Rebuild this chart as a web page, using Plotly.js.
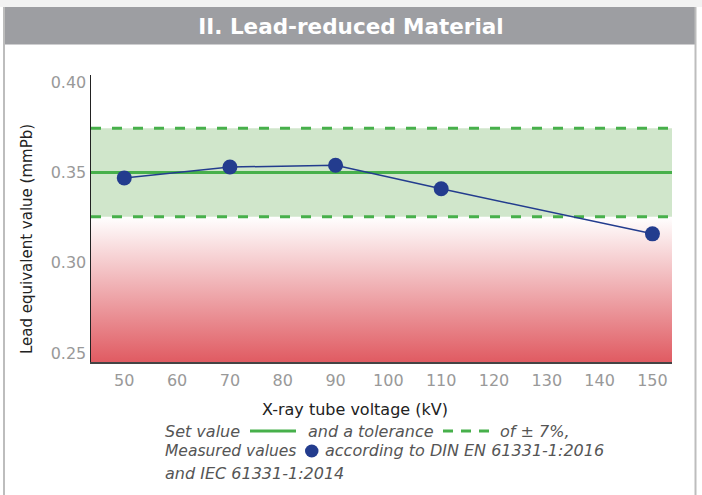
<!DOCTYPE html>
<html>
<head>
<meta charset="utf-8">
<script src="https://cdn.plot.ly/plotly-3.0.1.min.js"></script>
<style>html,body{margin:0;padding:0;background:#fff;}#chart{width:702px;height:495px;}</style>
</head>
<body>
<div id="chart"></div>
<script>
// ---- data ----
const voltages = [50, 70, 90, 110, 150];
const measured = [0.347, 0.353, 0.354, 0.341, 0.316];
const setValue = 0.35;
const tolerance = 0.07;
const xTicks = [50, 60, 70, 80, 90, 100, 110, 120, 130, 140, 150];
const yTicks = [0.25, 0.30, 0.35, 0.40];
const xRange = [43.7, 153.7];
const yRange = [0.245, 0.404];
const chartTitle = 'II. Lead-reduced Material';
const xTitle = 'X-ray tube voltage (kV)';
const yTitle = 'Lead equivalent value (mmPb)';

const hiTol = setValue * (1 + tolerance);
const loTol = setValue * (1 - tolerance);

// ---- layout geometry (pixels) ----
const W = 702, H = 495;
const M = {l: 91, r: 30, t: 75, b: 133};
const PW = W - M.l - M.r, PH = H - M.t - M.b;
const px = x => (x - M.l) / PW;
const py = y => (H - M.b - y) / PH;

const FONT = 'DejaVu Sans, Verdana, sans-serif';
const GREEN = '#47b04b';
const BLUE = '#233c8e';

const traces = [
  { // red gradient zone below tolerance
    x: [xRange[0], xRange[1], xRange[1], xRange[0]],
    y: [yRange[0], yRange[0], loTol, loTol],
    mode: 'lines', line: {width: 0}, fill: 'toself',
    fillgradient: {type: 'vertical', colorscale: [[0, '#e05b62'], [1, '#ffffff']]},
    hoverinfo: 'skip', showlegend: false
  },
  { // green tolerance band
    x: [xRange[0], xRange[1], xRange[1], xRange[0]],
    y: [loTol, loTol, hiTol, hiTol],
    mode: 'lines', line: {width: 0}, fill: 'toself', fillcolor: '#d0e6cb',
    hoverinfo: 'skip', showlegend: false
  },
  { x: xRange, y: [setValue, setValue], mode: 'lines', line: {color: GREEN, width: 3}, hoverinfo: 'skip', showlegend: false },
  { x: xRange, y: [hiTol, hiTol], mode: 'lines', line: {color: GREEN, width: 3, dash: '10px,11px'}, hoverinfo: 'skip', showlegend: false },
  { x: xRange, y: [loTol, loTol], mode: 'lines', line: {color: GREEN, width: 3, dash: '10px,11px'}, hoverinfo: 'skip', showlegend: false },
  { x: voltages, y: measured, mode: 'lines+markers', line: {color: BLUE, width: 1.5},
    marker: {color: BLUE, size: 15}, showlegend: false, cliponaxis: false }
];

function lab(text, x, y, size) {
  return {text: '<i>' + text + '</i>', xref: 'paper', yref: 'paper', x: px(x), y: py(y),
    xanchor: 'left', yanchor: 'middle', showarrow: false, borderpad: 0,
    font: {family: FONT, size: size || 16, color: '#555'}};
}

const annotations = [
  {text: xTitle, xref: 'paper', yref: 'paper', x: px(354.5), y: py(409), xanchor: 'center', yanchor: 'middle',
   showarrow: false, font: {family: FONT, size: 16, color: '#222'}},
  {text: yTitle, xref: 'paper', yref: 'paper', x: px(27), y: py(239), xanchor: 'center', yanchor: 'middle',
   textangle: -90, showarrow: false, font: {family: FONT, size: 15, color: '#222'}},
  lab('Set value', 164, 431),
  lab('and a tolerance', 306.5, 431),
  lab('of ± 7%,', 499, 431),
  lab('Measured values', 164, 451, 15.5),
  lab('according to DIN EN 61331-1:2016', 324, 451),
  lab('and IEC 61331-1:2014', 164, 473)
];

const shapes = [
  {type: 'rect', xref: 'paper', yref: 'paper', x0: px(0), x1: px(702), y0: py(0), y1: py(7), fillcolor: '#f2f2f2', line: {width: 0}, layer: 'below'},
  {type: 'rect', xref: 'paper', yref: 'paper', x0: px(3), x1: px(696), y0: py(7), y1: py(44.5), fillcolor: '#9d9ea2', line: {width: 0}, layer: 'below'},
  {type: 'line', xref: 'paper', yref: 'paper', x0: px(4), x1: px(4), y0: py(7), y1: py(495), line: {color: '#bdbdbd', width: 2}, layer: 'below'},
  {type: 'line', xref: 'paper', yref: 'paper', x0: px(695.5), x1: px(695.5), y0: py(7), y1: py(495), line: {color: '#bdbdbd', width: 2}, layer: 'below'},
  {type: 'line', xref: 'paper', yref: 'paper', x0: px(250), x1: px(296), y0: py(431), y1: py(431), line: {color: GREEN, width: 3}},
  {type: 'line', xref: 'paper', yref: 'paper', x0: px(443), x1: px(489), y0: py(431), y1: py(431), line: {color: GREEN, width: 3, dash: '10px,8px'}},
  {type: 'circle', xref: 'paper', yref: 'paper', x0: px(305), x1: px(318.5), y0: py(444.5), y1: py(457.5), fillcolor: BLUE, line: {width: 0}}
];

const layout = {
  width: W, height: H,
  margin: M,
  paper_bgcolor: '#ffffff', plot_bgcolor: '#ffffff',
  font: {family: FONT},
  title: {text: '<b>' + chartTitle + '</b>', x: 351 / W, xref: 'container', xanchor: 'center',
          y: 1 - 26 / H, yref: 'container', yanchor: 'middle',
          font: {family: FONT, size: 21.5, color: '#ffffff'}},
  xaxis: {range: xRange, tickvals: xTicks, ticks: '', showgrid: false, zeroline: false,
          showline: true, linecolor: '#444', linewidth: 2, ticklabelstandoff: 3,
          tickfont: {family: FONT, size: 16, color: '#999'}},
  yaxis: {range: yRange, tickvals: yTicks, tickformat: '.2f', ticks: '', showgrid: false, zeroline: false,
          showline: true, linecolor: '#222', linewidth: 1.5,
          tickfont: {family: FONT, size: 16, color: '#999'}},
  showlegend: false,
  shapes: shapes,
  annotations: annotations
};

Plotly.newPlot('chart', traces, layout, {displayModeBar: false, staticPlot: true});
</script>
</body>
</html>
